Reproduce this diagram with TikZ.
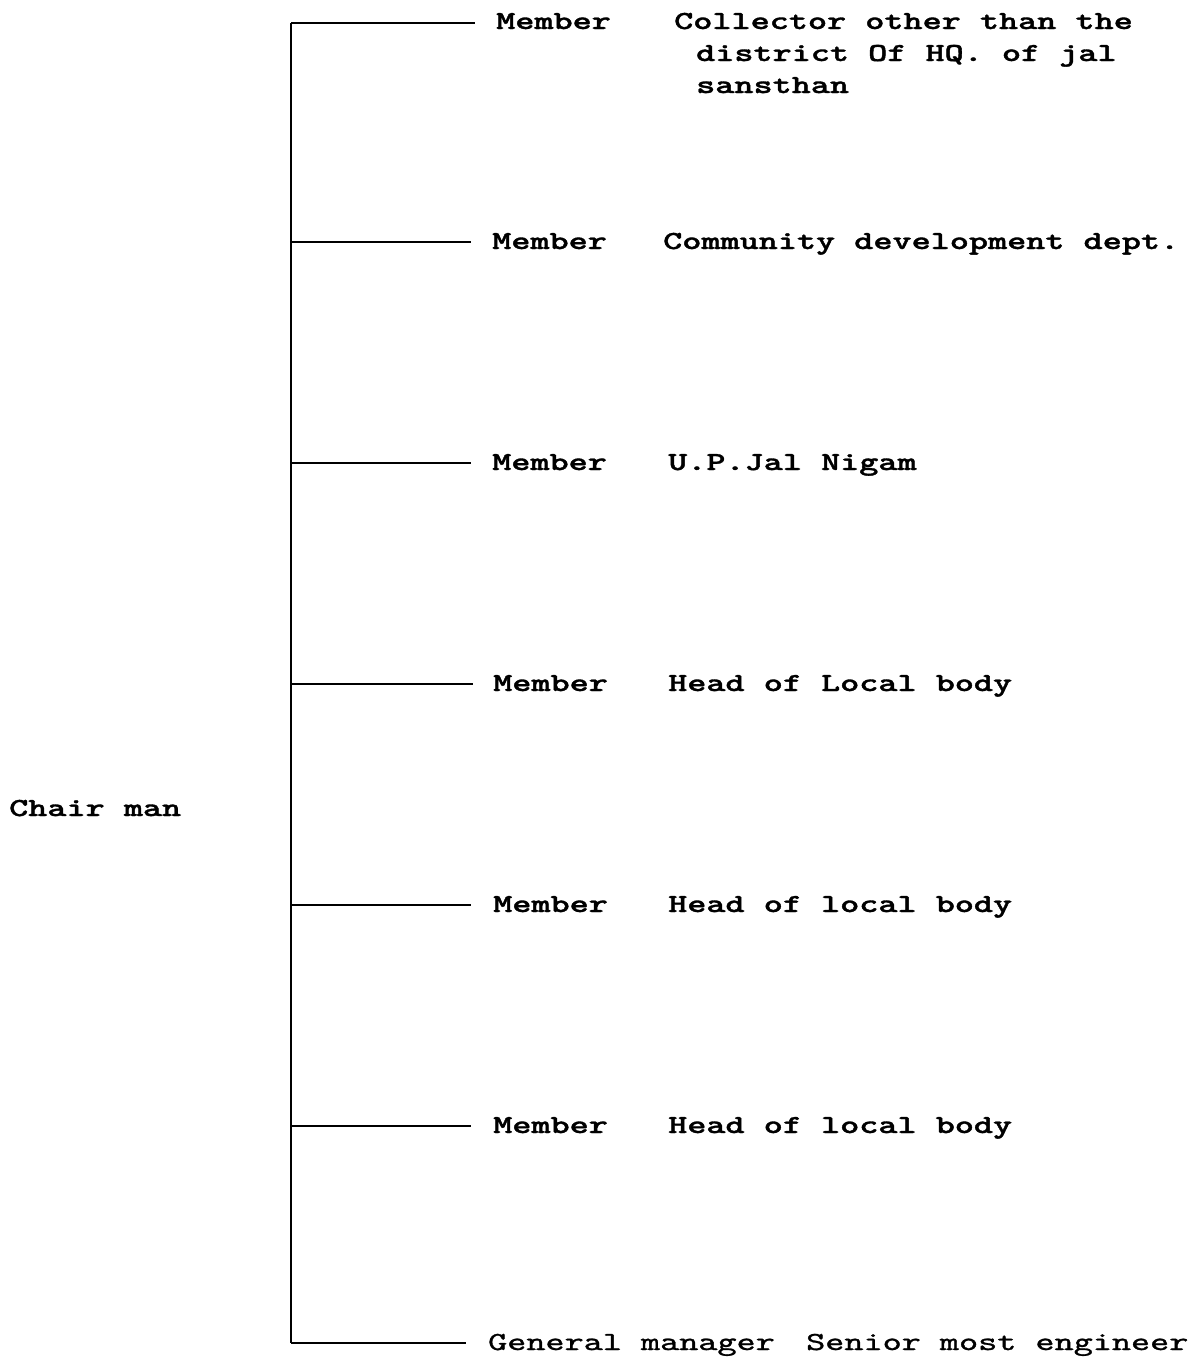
\documentclass[tikz,border=0pt]{standalone}
\usepackage{fontspec}
\usepackage{graphicx}
\newfontfamily\monobold{lmmonolt10-bold.otf}[FakeBold=1.2]
\newfontfamily\monoreg{lmmono10-regular.otf}[FakeBold=1.0]
\newcommand\stretchtxt[1]{\scalebox{1.40}[1]{#1}}
\begin{document}
\begin{tikzpicture}[x=1pt,y=-1pt,
  lbl/.style={anchor=base west,inner sep=0pt,font=\monobold\fontsize{26}{32}\selectfont},
  lblr/.style={anchor=base west,inner sep=0pt,font=\monoreg\fontsize{26}{32}\selectfont},
  branch/.style={line width=2pt},
  spine/.style={line width=2pt}]
\useasboundingbox (0,0) rectangle (1194,1361);
% spine coordinates
\coordinate (b1) at (291,22.5);
\coordinate (b2) at (291,242);
\coordinate (b3) at (291,463);
\coordinate (b4) at (291,684);
\coordinate (b5) at (291,905);
\coordinate (b6) at (291,1126);
\coordinate (b7) at (291,1343);
% branch ends
\coordinate (e1) at (475,22.5);
\coordinate (e2) at (471,242);
\coordinate (e3) at (471,463);
\coordinate (e4) at (473,684);
\coordinate (e5) at (471,905);
\coordinate (e6) at (471,1126);
\coordinate (e7) at (466,1343);
\draw[spine] (b1) -- (b7);
\foreach \i in {1,...,7} \draw[branch] (b\i) -- (e\i);
% chairman
\node[lbl] (chair) at (9,816) {\stretchtxt{Chair man}};
% members
\node[lbl] (m1) at (496,29) {\stretchtxt{Member}};
\node[lbl] (m2) at (492,249) {\stretchtxt{Member}};
\node[lbl] (m3) at (492,470) {\stretchtxt{Member}};
\node[lbl] (m4) at (493,691) {\stretchtxt{Member}};
\node[lbl] (m5) at (493,912) {\stretchtxt{Member}};
\node[lbl] (m6) at (493,1133) {\stretchtxt{Member}};
\node[lblr] (m7) at (488,1350) {\stretchtxt{General manager}};
% descriptions
\node[lbl] (d1a) at (674,29) {\stretchtxt{Collector other than the}};
\node[lbl] (d1b) at (696,61) {\stretchtxt{district Of HQ. of jal}};
\node[lbl] (d1c) at (696,93) {\stretchtxt{sansthan}};
\node[lbl] (d2) at (663,249) {\stretchtxt{Community development dept.}};
\node[lbl] (d3) at (668,470) {\stretchtxt{U.P.Jal Nigam}};
\node[lbl] (d4) at (668,691) {\stretchtxt{Head of Local body}};
\node[lbl] (d5) at (668,912) {\stretchtxt{Head of local body}};
\node[lbl] (d6) at (668,1133) {\stretchtxt{Head of local body}};
\node[lblr] (d7) at (806,1350) {\stretchtxt{Senior most engineer}};
\end{tikzpicture}
\end{document}
